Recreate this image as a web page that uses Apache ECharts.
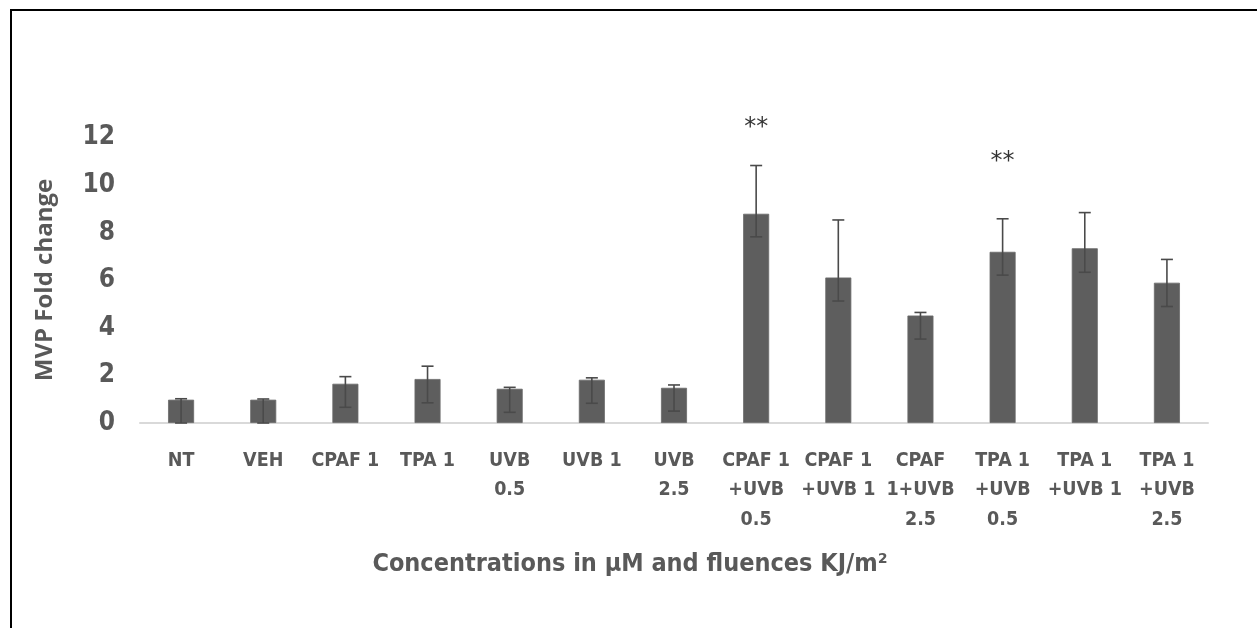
<!DOCTYPE html>
<html>
<head>
<meta charset="utf-8">
<script src="https://cdn.jsdelivr.net/npm/echarts@6/dist/echarts.min.js"></script>
<style>
  html, body { margin: 0; padding: 0; background: #fff; }
  #frame { position: absolute; left: 10px; top: 9px; width: 1247px; height: 619px;
           border-left: 2px solid #000; border-top: 2px solid #000; box-sizing: border-box; }
  #chart { position: absolute; left: 0; top: 0; width: 1257px; height: 628px; }
</style>
</head>
<body>
<div id="frame"></div>
<div id="chart"></div>
<script>
// ---- data ----
const categories = [
  'NT', 'VEH', 'CPAF 1', 'TPA 1', 'UVB\n0.5', 'UVB 1', 'UVB\n2.5',
  'CPAF 1\n+UVB\n0.5', 'CPAF 1\n+UVB 1', 'CPAF\n1+UVB\n2.5',
  'TPA 1\n+UVB\n0.5', 'TPA 1\n+UVB 1', 'TPA 1\n+UVB\n2.5'
];
const foldChange = [0.98, 0.98, 1.65, 1.85, 1.44, 1.82, 1.48, 8.80, 6.12, 4.52, 7.20, 7.35, 5.90];
const errorUpper = [1.02, 1.01, 1.95, 2.39, 1.50, 1.90, 1.60, 10.83, 8.54, 4.65, 8.59, 8.85, 6.88];
const errorLower = [0.00, 0.00, 0.66, 0.85, 0.45, 0.83, 0.50, 7.83, 5.13, 3.53, 6.22, 6.34, 4.90];
const significance = ['', '', '', '', '', '', '', '**', '', '', '**', '', ''];
const significanceY = [null, null, null, null, null, null, null, 12.4, null, null, 11.0, null, null];
const yTicks = { min: 0, max: 12, interval: 2 };

// ---- chart ----
const chart = echarts.init(document.getElementById('chart'), null, { renderer: 'canvas' });
const grey = '#595959';
const narrow = "'Liberation Sans Narrow', 'DejaVu Sans Condensed', sans-serif";

const errData = categories.map((c, i) => [i, errorLower[i], errorUpper[i]]);
const starData = categories.map((c, i) => significanceY[i] == null ? null : { value: [i, significanceY[i]], name: significance[i] });

chart.setOption({
  animation: false,
  backgroundColor: 'transparent',
  grid: { left: 140, right: 49, top: 137.7, bottom: 205, containLabel: false },
  xAxis: {
    type: 'category',
    data: categories,
    axisLine: { lineStyle: { color: '#d9d9d9', width: 2 } },
    axisTick: { show: false },
    axisLabel: {
      interval: 0, margin: 23, color: grey, fontFamily: narrow, fontWeight: 'bold',
      fontSize: 19.5, lineHeight: 29.5
    }
  },
  yAxis: {
    type: 'value', min: yTicks.min, max: yTicks.max, interval: yTicks.interval,
    axisLine: { show: false }, axisTick: { show: false }, splitLine: { show: false },
    axisLabel: { margin: 25, color: grey, fontFamily: narrow, fontWeight: 'bold', fontSize: 26 }
  },
  series: [
    {
      type: 'bar', data: foldChange, barWidth: 26,
      itemStyle: { color: '#5e5e5e', borderColor: '#6a6a6a', borderWidth: 0.8 }
    },
    {
      type: 'custom', data: errData, z: 5,
      renderItem: function (params, api) {
        const x = api.value(0);
        const lo = api.coord([x, api.value(1)]);
        const hi = api.coord([x, api.value(2)]);
        const hw = 6;
        const style = { stroke: '#4a4a4a', lineWidth: 1.6 };
        return {
          type: 'group',
          children: [
            { type: 'line', shape: { x1: hi[0], y1: hi[1], x2: lo[0], y2: lo[1] }, style: style },
            { type: 'line', shape: { x1: hi[0] - hw, y1: hi[1], x2: hi[0] + hw, y2: hi[1] }, style: style },
            { type: 'line', shape: { x1: lo[0] - hw, y1: lo[1], x2: lo[0] + hw, y2: lo[1] }, style: style }
          ]
        };
      }
    },
    {
      type: 'scatter', data: starData, symbolSize: 0, clip: false, z: 6,
      label: {
        show: true, position: 'inside', formatter: p => p.name,
        color: '#000', fontSize: 24, fontFamily: "'DejaVu Sans', sans-serif"
      }
    }
  ],
  graphic: [
    {
      type: 'text', position: [630, 564],
      style: {
        text: 'Concentrations in µM and fluences KJ/m²', x: 0, y: 0,
        fill: grey, font: "bold 25px " + narrow, textAlign: 'center', textVerticalAlign: 'middle'
      }
    },
    {
      type: 'text', rotation: Math.PI / 2, position: [45, 280],
      style: {
        text: 'MVP Fold change', x: 0, y: 0,
        fill: grey, font: "bold 24px 'Open Sans', sans-serif", textAlign: 'center', textVerticalAlign: 'middle'
      }
    }
  ]
});
</script>
</body>
</html>
